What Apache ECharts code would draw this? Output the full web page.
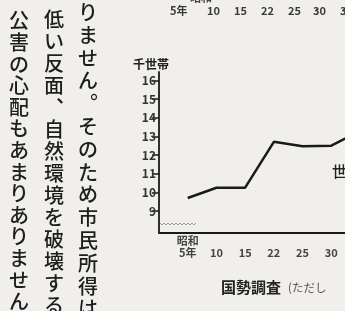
<!DOCTYPE html>
<html>
<head>
<meta charset="utf-8">
<script src="https://cdn.jsdelivr.net/npm/echarts@6/dist/echarts.min.js"></script>
<style>
  html, body { margin: 0; padding: 0; background: #f0efeb; }
  #chart { width: 345px; height: 311px; }
</style>
</head>
<body>
<div id="chart"></div>
<script>
  // 国勢調査 世帯数（千世帯）
  const categories = ['', '昭和\n5年', '10', '15', '22', '25', '30', '35'];
  const households = ['-', 9.7, 10.25, 10.25, 12.71, 12.47, 12.5, 13.3];
  const yTicks = [9, 10, 11, 12, 13, 14, 15, 16];

  // 上の図の目盛りの切れ端
  const topRowLabels = ['5年', '10', '15', '22', '25', '30', '3'];
  const topRowX = [170, 207, 234, 261, 288, 313, 340];

  // 本文（縦書き）
  const columns = [
    'りません。そのため市民所得は',
    '低い反面、自然環境を破壊する',
    '公害の心配もあまりありません'
  ];

  const FONT = '"Noto Sans CJK JP", "Noto Sans", sans-serif';
  const INK = '#222';

  const toVertical = s => s.replace(/、/g, '︑').replace(/。/g, '︒').split('').join('\n');

  const graphic = [];
  /*縦書き本文*/
  const colX = [88, 54, 19];
  const colY = [1, 8, 10];
  const colPitch = [22.8, 22, 21.6];
  columns.forEach((c, i) => {
    graphic.push({
      type: 'text', silent: true,
      style: {
        text: toVertical(c), x: colX[i], y: colY[i],
        align: 'center', verticalAlign: 'top',
        fontSize: 20, lineHeight: colPitch[i], fontFamily: FONT,
        fontWeight: 500, fill: '#1e1e1e'
      }
    });
  });
  /*上の図の目盛り*/
  graphic.push({
    type: 'text', silent: true,
    style: { text: '昭和', x: 190, y: -8, fontSize: 11, fontFamily: FONT, fill: '#444', fontWeight: 'bold' }
  });
  topRowLabels.forEach((t, i) => {
    graphic.push({
      type: 'text', silent: true,
      style: { text: t, x: topRowX[i], y: 5, fontSize: 11, fontFamily: FONT, fill: '#3a3a3a', fontWeight: 'bold' }
    });
  });
  /*系列名の切れ端*/
  graphic.push({
    type: 'text', silent: true,
    style: { text: '世', x: 332, y: 164, fontSize: 15, fontFamily: FONT, fill: INK, fontWeight: 500 }
  });
  /*出典*/
  graphic.push({
    type: 'text', silent: true,
    style: { text: '国勢調査', x: 221, y: 280, fontSize: 15, fontFamily: FONT, fill: '#222', fontWeight: 'bold' }
  });
  graphic.push({
    type: 'text', silent: true,
    style: { text: '(ただし', x: 288, y: 282, fontSize: 11.5, fontFamily: FONT, fill: '#555' }
  });
  /*省略の波線*/
  const wave = [];
  for (let x = 160; x <= 196; x += 2) {
    wave.push([x, 224 + ((x / 2) % 2 === 0 ? -1 : 1)]);
  }
  graphic.push({
    type: 'polyline', silent: true,
    shape: { points: wave },
    style: { stroke: '#888', lineWidth: 0.8, fill: null }
  });

  const chart = echarts.init(document.getElementById('chart'));
  const option = {
    animation: false,
    backgroundColor: '#f0efeb',
    grid: { left: 159, right: -15, top: 72, bottom: 78.5, outerBoundsMode: 'none', containLabel: false },
    xAxis: {
      type: 'category',
      data: categories,
      boundaryGap: false,
      axisLine: { lineStyle: { color: '#1a1a1a', width: 1.8 } },
      axisTick: { show: false },
      axisLabel: {
        interval: 0,
        fontSize: 11,
        lineHeight: 12,
        margin: 2,
        color: '#444',
        fontWeight: 'bold',
        fontFamily: FONT,
        formatter: v => (v.indexOf('\n') >= 0 || v === '') ? v : '\n' + v
      }
    },
    yAxis: {
      type: 'value',
      min: 7.85,
      max: 16.45,
      name: '千世帯',
      nameLocation: 'end',
      nameGap: 2,
      nameTextStyle: {
        fontSize: 12, color: INK, fontFamily: FONT, fontWeight: 'bold',
        align: 'center', padding: [0, 16, 0, 0]
      },
      axisLine: { show: true, lineStyle: { color: '#1a1a1a', width: 1.8 } },
      axisTick: { show: true, length: 7, customValues: yTicks, lineStyle: { color: '#1a1a1a', width: 1.5 } },
      axisLabel: {
        customValues: yTicks,
        fontSize: 12, margin: 3, color: '#333', fontWeight: 'bold', fontFamily: FONT
      },
      splitLine: { show: false }
    },
    series: [{
      type: 'line',
      data: households,
      showSymbol: false,
      lineStyle: { color: '#1a1a1a', width: 2.5 }
    }],
    graphic: graphic
  };
  chart.setOption(option, true);
</script>
</body>
</html>
